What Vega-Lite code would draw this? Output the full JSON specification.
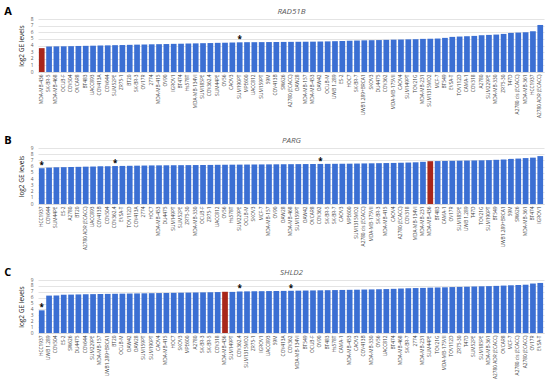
{
  "$schema": "https://vega.github.io/schema/vega-lite/v6.json",
  "background": "white",
  "padding": {"left": 4, "top": 6, "right": 3, "bottom": 2},
  "config": {
    "view": {"stroke": null},
    "font": "Open Sans",
    "concat": {"spacing": 17},
    "axisY": {"grid": true, "gridColor": "#d9d9d9", "gridWidth": 0.7, "domain": false, "ticks": false, "labelFontSize": 4.8, "labelOverlap": false, "labelColor": "#595959", "labelPadding": 5, "titleFontSize": 6.5, "titleFontWeight": "normal", "titleColor": "#222222", "titlePadding": 6}
  },
  "datasets": {
    "A": [
      {"cell": "MDA-MB-436", "ge": 3.6, "sig": ""},
      {"cell": "SK-BR-5", "ge": 3.85, "sig": ""},
      {"cell": "MDA-MB-468", "ge": 3.87, "sig": ""},
      {"cell": "OCUB-F", "ge": 3.88, "sig": ""},
      {"cell": "COV504", "ge": 3.9, "sig": ""},
      {"cell": "OVCAR8", "ge": 3.93, "sig": ""},
      {"cell": "BT483", "ge": 3.95, "sig": ""},
      {"cell": "UACC893", "ge": 3.97, "sig": ""},
      {"cell": "COV413A", "ge": 4.0, "sig": ""},
      {"cell": "COV644", "ge": 4.02, "sig": ""},
      {"cell": "SUM52PE", "ge": 4.05, "sig": ""},
      {"cell": "ZR75-1", "ge": 4.07, "sig": ""},
      {"cell": "BT20", "ge": 4.1, "sig": ""},
      {"cell": "SK-BR-3", "ge": 4.13, "sig": ""},
      {"cell": "OV17R", "ge": 4.15, "sig": ""},
      {"cell": "2774", "ge": 4.18, "sig": ""},
      {"cell": "MDA-MB-415", "ge": 4.2, "sig": ""},
      {"cell": "OV90", "ge": 4.22, "sig": ""},
      {"cell": "IGROV1", "ge": 4.25, "sig": ""},
      {"cell": "BT474", "ge": 4.27, "sig": ""},
      {"cell": "Hs578T", "ge": 4.3, "sig": ""},
      {"cell": "MDA-MB-134VI", "ge": 4.32, "sig": ""},
      {"cell": "SUM185PE", "ge": 4.35, "sig": ""},
      {"cell": "COV362.4", "ge": 4.37, "sig": ""},
      {"cell": "SUM44PE", "ge": 4.4, "sig": ""},
      {"cell": "OV56", "ge": 4.42, "sig": ""},
      {"cell": "CAOV3", "ge": 4.45, "sig": ""},
      {"cell": "SUM190PT", "ge": 4.48, "sig": "*"},
      {"cell": "MPE600", "ge": 4.5, "sig": ""},
      {"cell": "UACC812", "ge": 4.5, "sig": ""},
      {"cell": "SUM159PT", "ge": 4.51, "sig": ""},
      {"cell": "59M", "ge": 4.52, "sig": ""},
      {"cell": "COV413B", "ge": 4.53, "sig": ""},
      {"cell": "SW626", "ge": 4.54, "sig": ""},
      {"cell": "A2780 (ECACC)", "ge": 4.55, "sig": ""},
      {"cell": "OAW28", "ge": 4.56, "sig": ""},
      {"cell": "MDA-MB-157", "ge": 4.57, "sig": ""},
      {"cell": "MDA-MB-453", "ge": 4.58, "sig": ""},
      {"cell": "OAW42", "ge": 4.6, "sig": ""},
      {"cell": "OCUB-M", "ge": 4.62, "sig": ""},
      {"cell": "UWB 1.289", "ge": 4.65, "sig": ""},
      {"cell": "ES-2", "ge": 4.68, "sig": ""},
      {"cell": "HOC7", "ge": 4.72, "sig": ""},
      {"cell": "SK-BR-7", "ge": 4.75, "sig": ""},
      {"cell": "UWB1.289+BRCA1", "ge": 4.78, "sig": ""},
      {"cell": "SKOV3", "ge": 4.8, "sig": ""},
      {"cell": "DU4475", "ge": 4.82, "sig": ""},
      {"cell": "COV362", "ge": 4.85, "sig": ""},
      {"cell": "MDA-MB-175VII", "ge": 4.88, "sig": ""},
      {"cell": "CAOV4", "ge": 4.9, "sig": ""},
      {"cell": "SUM149PT", "ge": 4.93, "sig": ""},
      {"cell": "TOV21G", "ge": 4.95, "sig": ""},
      {"cell": "MDA-MB-231", "ge": 5.0, "sig": ""},
      {"cell": "SUM1315MO2", "ge": 5.02, "sig": ""},
      {"cell": "MCF-7", "ge": 5.05, "sig": ""},
      {"cell": "BT549", "ge": 5.15, "sig": ""},
      {"cell": "EVSA-T", "ge": 5.3, "sig": ""},
      {"cell": "TOV112D", "ge": 5.35, "sig": ""},
      {"cell": "CAMA-1", "ge": 5.4, "sig": ""},
      {"cell": "COV318", "ge": 5.45, "sig": ""},
      {"cell": "A2780", "ge": 5.55, "sig": ""},
      {"cell": "SUM229PE", "ge": 5.6, "sig": ""},
      {"cell": "MDA-MB-330", "ge": 5.65, "sig": ""},
      {"cell": "ZR75-30", "ge": 5.75, "sig": ""},
      {"cell": "T47D", "ge": 5.9, "sig": ""},
      {"cell": "A2780 cis (ECACC)", "ge": 5.95, "sig": ""},
      {"cell": "MDA-MB-361", "ge": 6.0, "sig": ""},
      {"cell": "HCC1937", "ge": 6.15, "sig": ""},
      {"cell": "A2780 ADR (ECACC)", "ge": 7.1, "sig": ""}
    ],
    "B": [
      {"cell": "HCC1937", "ge": 5.75, "sig": "*"},
      {"cell": "COV644", "ge": 5.85, "sig": ""},
      {"cell": "SUM44PE", "ge": 5.9, "sig": ""},
      {"cell": "ES-2", "ge": 5.92, "sig": ""},
      {"cell": "A2780", "ge": 5.95, "sig": ""},
      {"cell": "BT20", "ge": 5.97, "sig": ""},
      {"cell": "A2780 ADR (ECACC)", "ge": 6.0, "sig": ""},
      {"cell": "UACC893", "ge": 6.02, "sig": ""},
      {"cell": "COV413B", "ge": 6.05, "sig": ""},
      {"cell": "COV504", "ge": 6.07, "sig": ""},
      {"cell": "COV362.4", "ge": 6.1, "sig": "*"},
      {"cell": "EVSA-T", "ge": 6.12, "sig": ""},
      {"cell": "TOV112D", "ge": 6.14, "sig": ""},
      {"cell": "COV413A", "ge": 6.16, "sig": ""},
      {"cell": "2774", "ge": 6.18, "sig": ""},
      {"cell": "HOC7", "ge": 6.2, "sig": ""},
      {"cell": "MDA-MB-453", "ge": 6.21, "sig": ""},
      {"cell": "DU4475", "ge": 6.22, "sig": ""},
      {"cell": "SUM149PT", "ge": 6.23, "sig": ""},
      {"cell": "SUM52PE", "ge": 6.24, "sig": ""},
      {"cell": "ZR75-30", "ge": 6.25, "sig": ""},
      {"cell": "MDA-MB-330", "ge": 6.26, "sig": ""},
      {"cell": "OCUB-F", "ge": 6.27, "sig": ""},
      {"cell": "ZR75-1", "ge": 6.28, "sig": ""},
      {"cell": "UACC812", "ge": 6.3, "sig": ""},
      {"cell": "OV56", "ge": 6.31, "sig": ""},
      {"cell": "Hs578T", "ge": 6.32, "sig": ""},
      {"cell": "SUM229PE", "ge": 6.33, "sig": ""},
      {"cell": "OCUB-M", "ge": 6.34, "sig": ""},
      {"cell": "SKOV3", "ge": 6.35, "sig": ""},
      {"cell": "MCF-7", "ge": 6.36, "sig": ""},
      {"cell": "MDA-MB-157", "ge": 6.37, "sig": ""},
      {"cell": "OV90", "ge": 6.38, "sig": ""},
      {"cell": "OAW28", "ge": 6.39, "sig": ""},
      {"cell": "MDA-MB-468", "ge": 6.4, "sig": ""},
      {"cell": "SUM159PT", "ge": 6.41, "sig": ""},
      {"cell": "OAW42", "ge": 6.42, "sig": ""},
      {"cell": "OVCAR8", "ge": 6.43, "sig": ""},
      {"cell": "COV362", "ge": 6.44, "sig": "*"},
      {"cell": "SK-BR-5", "ge": 6.45, "sig": ""},
      {"cell": "SK-BR-7", "ge": 6.46, "sig": ""},
      {"cell": "CAOV3", "ge": 6.47, "sig": ""},
      {"cell": "MPE600", "ge": 6.48, "sig": ""},
      {"cell": "SUM1315MO2", "ge": 6.5, "sig": ""},
      {"cell": "A2780 cis (ECACC)", "ge": 6.52, "sig": ""},
      {"cell": "MDA-MB-175VII", "ge": 6.54, "sig": ""},
      {"cell": "SK-BR-3", "ge": 6.56, "sig": ""},
      {"cell": "MDA-MB-415", "ge": 6.58, "sig": ""},
      {"cell": "CAOV4", "ge": 6.6, "sig": ""},
      {"cell": "A2780 (ECACC)", "ge": 6.63, "sig": ""},
      {"cell": "COV318", "ge": 6.66, "sig": ""},
      {"cell": "MDA-MB-134VI", "ge": 6.7, "sig": ""},
      {"cell": "MDA-MB-231", "ge": 6.78, "sig": ""},
      {"cell": "MDA-MB-436", "ge": 6.88, "sig": ""},
      {"cell": "BT483", "ge": 6.9, "sig": ""},
      {"cell": "CAMA-1", "ge": 6.92, "sig": ""},
      {"cell": "OV17R", "ge": 6.94, "sig": ""},
      {"cell": "SUM185PE", "ge": 6.96, "sig": ""},
      {"cell": "UWB 1.289", "ge": 6.98, "sig": ""},
      {"cell": "T47D", "ge": 7.0, "sig": ""},
      {"cell": "TOV21G", "ge": 7.02, "sig": ""},
      {"cell": "SUM190PT", "ge": 7.05, "sig": ""},
      {"cell": "BT549", "ge": 7.1, "sig": ""},
      {"cell": "UWB1.289+BRCA1", "ge": 7.15, "sig": ""},
      {"cell": "59M", "ge": 7.25, "sig": ""},
      {"cell": "SW626", "ge": 7.3, "sig": ""},
      {"cell": "MDA-MB-361", "ge": 7.38, "sig": ""},
      {"cell": "BT474", "ge": 7.45, "sig": ""},
      {"cell": "IGROV1", "ge": 7.7, "sig": ""}
    ],
    "C": [
      {"cell": "HCC1937", "ge": 3.85, "sig": "*"},
      {"cell": "UWB 1.289", "ge": 6.35, "sig": ""},
      {"cell": "COV504", "ge": 6.37, "sig": ""},
      {"cell": "ES-2", "ge": 6.5, "sig": ""},
      {"cell": "SW626", "ge": 6.52, "sig": ""},
      {"cell": "DU4475", "ge": 6.55, "sig": ""},
      {"cell": "COV644", "ge": 6.58, "sig": ""},
      {"cell": "SUM229PE", "ge": 6.6, "sig": ""},
      {"cell": "MDA-MB-157", "ge": 6.62, "sig": ""},
      {"cell": "UWB1.289+BRCA1", "ge": 6.64, "sig": ""},
      {"cell": "BT20", "ge": 6.66, "sig": ""},
      {"cell": "OCUB-M", "ge": 6.68, "sig": ""},
      {"cell": "OAW42", "ge": 6.7, "sig": ""},
      {"cell": "OAW28", "ge": 6.72, "sig": ""},
      {"cell": "SUM159PT", "ge": 6.74, "sig": ""},
      {"cell": "SUM190PT", "ge": 6.76, "sig": ""},
      {"cell": "CAOV4", "ge": 6.78, "sig": ""},
      {"cell": "MDA-MB-415", "ge": 6.8, "sig": ""},
      {"cell": "HOC7", "ge": 6.82, "sig": ""},
      {"cell": "SKOV3", "ge": 6.84, "sig": ""},
      {"cell": "MPE600", "ge": 6.86, "sig": ""},
      {"cell": "A2780", "ge": 6.88, "sig": ""},
      {"cell": "SK-BR-3", "ge": 6.9, "sig": ""},
      {"cell": "SK-BR-5", "ge": 6.92, "sig": ""},
      {"cell": "COV318", "ge": 6.95, "sig": ""},
      {"cell": "MDA-MB-436", "ge": 7.0, "sig": ""},
      {"cell": "SUM149PT", "ge": 6.98, "sig": ""},
      {"cell": "COV362.4", "ge": 7.05, "sig": "*"},
      {"cell": "SUM1315MO2", "ge": 7.07, "sig": ""},
      {"cell": "ZR75-1", "ge": 7.09, "sig": ""},
      {"cell": "IGROV1", "ge": 7.1, "sig": ""},
      {"cell": "UACC893", "ge": 7.12, "sig": ""},
      {"cell": "59M", "ge": 7.13, "sig": ""},
      {"cell": "COV413A", "ge": 7.15, "sig": ""},
      {"cell": "COV362", "ge": 7.17, "sig": "*"},
      {"cell": "MDA-MB-134VI", "ge": 7.19, "sig": ""},
      {"cell": "BT549", "ge": 7.21, "sig": ""},
      {"cell": "OCUB-F", "ge": 7.23, "sig": ""},
      {"cell": "OV90", "ge": 7.25, "sig": ""},
      {"cell": "BT483", "ge": 7.27, "sig": ""},
      {"cell": "Hs578T", "ge": 7.29, "sig": ""},
      {"cell": "CAMA-1", "ge": 7.31, "sig": ""},
      {"cell": "MDA-MB-453", "ge": 7.33, "sig": ""},
      {"cell": "CAOV3", "ge": 7.35, "sig": ""},
      {"cell": "COV413B", "ge": 7.38, "sig": ""},
      {"cell": "MDA-MB-330", "ge": 7.4, "sig": ""},
      {"cell": "OV56", "ge": 7.43, "sig": ""},
      {"cell": "UACC812", "ge": 7.46, "sig": ""},
      {"cell": "BT474", "ge": 7.5, "sig": ""},
      {"cell": "MDA-MB-468", "ge": 7.55, "sig": ""},
      {"cell": "SK-BR-7", "ge": 7.6, "sig": ""},
      {"cell": "2774", "ge": 7.63, "sig": ""},
      {"cell": "MDA-MB-231", "ge": 7.66, "sig": ""},
      {"cell": "SUM44PE", "ge": 7.7, "sig": ""},
      {"cell": "TOV21G", "ge": 7.73, "sig": ""},
      {"cell": "MDA-MB-175VII", "ge": 7.76, "sig": ""},
      {"cell": "TOV112D", "ge": 7.8, "sig": ""},
      {"cell": "ZR75-30", "ge": 7.83, "sig": ""},
      {"cell": "T47D", "ge": 7.86, "sig": ""},
      {"cell": "SUM52PE", "ge": 7.9, "sig": ""},
      {"cell": "SUM185PE", "ge": 7.93, "sig": ""},
      {"cell": "MDA-MB-361", "ge": 7.96, "sig": ""},
      {"cell": "A2780 ADR (ECACC)", "ge": 8.0, "sig": ""},
      {"cell": "OVCAR8", "ge": 8.05, "sig": ""},
      {"cell": "MCF-7", "ge": 8.1, "sig": ""},
      {"cell": "A2780 cis (ECACC)", "ge": 8.15, "sig": ""},
      {"cell": "A2780 (ECACC)", "ge": 8.2, "sig": ""},
      {"cell": "OV17R", "ge": 8.4, "sig": ""},
      {"cell": "EVSA-T", "ge": 8.5, "sig": ""}
    ]
  },
  "vconcat": [
    {
      "data": {"name": "A"},
      "width": 506,
      "height": 53,
      "title": {"text": "A", "anchor": "start", "frame": "bounds", "fontSize": 11, "fontWeight": "bold", "color": "#000000", "dx": -14, "dy": 10, "offset": 0},
      "layer": [
        {
          "mark": {"type": "bar"},
          "encoding": {
            "x": {"field": "cell", "type": "nominal", "sort": null, "scale": {"paddingInner": 0.22, "paddingOuter": 0.12},
                  "axis": {"orient": "bottom", "title": null, "labelAngle": -90, "labelFontSize": 4.8, "labelColor": "#404040", "labelPadding": 2, "labelOverlap": false, "ticks": false, "domainColor": "#d9d9d9", "grid": false}},
            "y": {"field": "ge", "type": "quantitative", "scale": {"domain": [0, 8]}, "axis": {"title": "log2 GE levels", "values": [0, 1, 2, 3, 4, 5, 6, 7, 8], "tickCount": 9, "labelOverlap": false, "grid": true}},
            "color": {"condition": {"test": "datum.cell === 'MDA-MB-436'", "value": "#a8261a"}, "value": "#3b6fd3"}
          }
        },
        {
          "mark": {"type": "text", "baseline": "bottom", "fontSize": 8, "fontWeight": "bold", "color": "#000000", "dy": 2},
          "encoding": {
            "x": {"field": "cell", "type": "nominal", "sort": null,
                  "axis": {"orient": "top", "title": "RAD51B", "titleFontStyle": "italic", "titleFontWeight": "normal", "titleFontSize": 8, "titleColor": "#595959", "titlePadding": 4, "labels": false, "ticks": false, "domain": false, "grid": false}},
            "y": {"field": "ge", "type": "quantitative", "scale": {"domain": [0, 8]}, "axis": {"title": "log2 GE levels", "values": [0, 1, 2, 3, 4, 5, 6, 7, 8], "tickCount": 9, "labelOverlap": false, "grid": true}},
            "text": {"field": "sig"}
          }
        }
      ],
      "resolve": {"axis": {"x": "independent"}}
    },
    {
      "data": {"name": "B"},
      "width": 506,
      "height": 56,
      "title": {"text": "B", "anchor": "start", "frame": "bounds", "fontSize": 11, "fontWeight": "bold", "color": "#000000", "dx": -14, "dy": 10, "offset": 0},
      "layer": [
        {
          "mark": {"type": "bar"},
          "encoding": {
            "x": {"field": "cell", "type": "nominal", "sort": null, "scale": {"paddingInner": 0.22, "paddingOuter": 0.12},
                  "axis": {"orient": "bottom", "title": null, "labelAngle": -90, "labelFontSize": 4.8, "labelColor": "#404040", "labelPadding": 2, "labelOverlap": false, "ticks": false, "domainColor": "#d9d9d9", "grid": false}},
            "y": {"field": "ge", "type": "quantitative", "scale": {"domain": [0, 9]}, "axis": {"title": "log2 GE levels", "values": [0, 1, 2, 3, 4, 5, 6, 7, 8, 9], "tickCount": 10, "labelOverlap": false, "grid": true}},
            "color": {"condition": {"test": "datum.cell === 'MDA-MB-436'", "value": "#a8261a"}, "value": "#3b6fd3"}
          }
        },
        {
          "mark": {"type": "text", "baseline": "bottom", "fontSize": 8, "fontWeight": "bold", "color": "#000000", "dy": 2},
          "encoding": {
            "x": {"field": "cell", "type": "nominal", "sort": null,
                  "axis": {"orient": "top", "title": "PARG", "titleFontStyle": "italic", "titleFontWeight": "normal", "titleFontSize": 8, "titleColor": "#595959", "titlePadding": 4, "labels": false, "ticks": false, "domain": false, "grid": false}},
            "y": {"field": "ge", "type": "quantitative", "scale": {"domain": [0, 9]}, "axis": {"title": "log2 GE levels", "values": [0, 1, 2, 3, 4, 5, 6, 7, 8, 9], "tickCount": 10, "labelOverlap": false, "grid": true}},
            "text": {"field": "sig"}
          }
        }
      ],
      "resolve": {"axis": {"x": "independent"}}
    },
    {
      "data": {"name": "C"},
      "width": 506,
      "height": 53,
      "title": {"text": "C", "anchor": "start", "frame": "bounds", "fontSize": 11, "fontWeight": "bold", "color": "#000000", "dx": -14, "dy": 10, "offset": 0},
      "layer": [
        {
          "mark": {"type": "bar"},
          "encoding": {
            "x": {"field": "cell", "type": "nominal", "sort": null, "scale": {"paddingInner": 0.22, "paddingOuter": 0.12},
                  "axis": {"orient": "bottom", "title": null, "labelAngle": -90, "labelFontSize": 4.8, "labelColor": "#404040", "labelPadding": 2, "labelOverlap": false, "ticks": false, "domainColor": "#d9d9d9", "grid": false}},
            "y": {"field": "ge", "type": "quantitative", "scale": {"domain": [0, 9]}, "axis": {"title": "log2 GE levels", "values": [0, 1, 2, 3, 4, 5, 6, 7, 8, 9], "tickCount": 10, "labelOverlap": false, "grid": true}},
            "color": {"condition": {"test": "datum.cell === 'MDA-MB-436'", "value": "#a8261a"}, "value": "#3b6fd3"}
          }
        },
        {
          "mark": {"type": "text", "baseline": "bottom", "fontSize": 8, "fontWeight": "bold", "color": "#000000", "dy": 2},
          "encoding": {
            "x": {"field": "cell", "type": "nominal", "sort": null,
                  "axis": {"orient": "top", "title": "SHLD2", "titleFontStyle": "italic", "titleFontWeight": "normal", "titleFontSize": 8, "titleColor": "#595959", "titlePadding": 4, "labels": false, "ticks": false, "domain": false, "grid": false}},
            "y": {"field": "ge", "type": "quantitative", "scale": {"domain": [0, 9]}, "axis": {"title": "log2 GE levels", "values": [0, 1, 2, 3, 4, 5, 6, 7, 8, 9], "tickCount": 10, "labelOverlap": false, "grid": true}},
            "text": {"field": "sig"}
          }
        }
      ],
      "resolve": {"axis": {"x": "independent"}}
    }
  ]
}
